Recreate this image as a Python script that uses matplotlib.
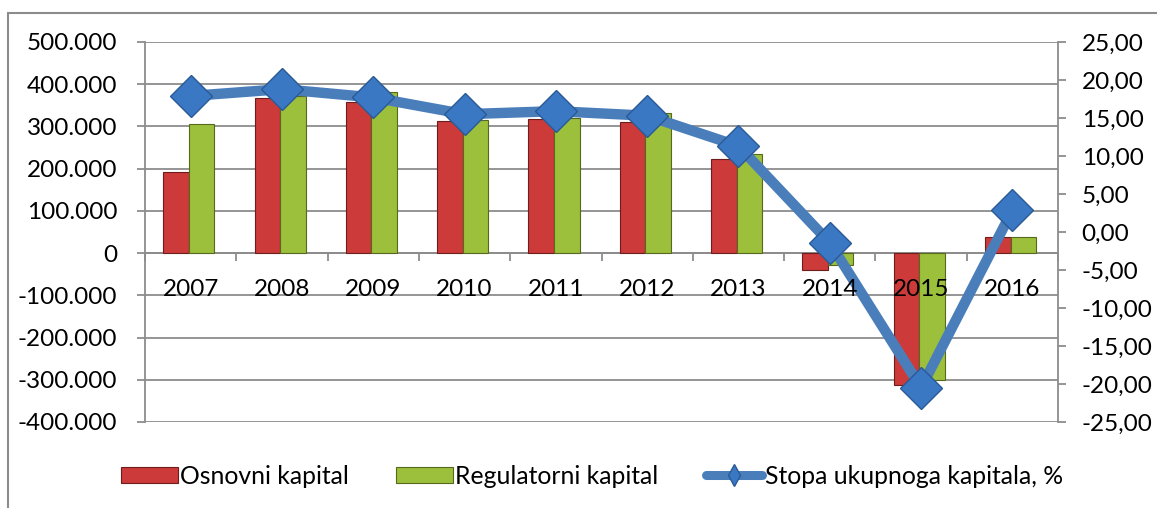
import matplotlib
matplotlib.use("Agg")
import matplotlib.pyplot as plt
from matplotlib.ticker import FuncFormatter, FixedLocator
from matplotlib.patches import Rectangle, Patch
from matplotlib.lines import Line2D
from matplotlib.transforms import offset_copy
import numpy as np

plt.rcParams['font.family'] = ['Lato', 'DejaVu Sans']

years = ['2007', '2008', '2009', '2010', '2011', '2012', '2013', '2014', '2015', '2016']
osnovni = [191000, 368000, 358000, 314000, 317000, 311000, 222000, -40000, -312000, 38000]
regulatorni = [305000, 372000, 381000, 316000, 319000, 333000, 234000, -28000, -300000, 38000]
stopa = [17.9, 18.8, 17.7, 15.5, 15.9, 15.3, 11.3, -1.4, -20.5, 2.85]

series_names = ['Osnovni kapital', 'Regulatorni kapital', 'Stopa ukupnoga kapitala, %']

W, H = 1157, 508
fig = plt.figure(figsize=(W / 100, H / 100), dpi=100)
fig.patch.set_facecolor('white')

left, right, top, bottom = 145, 1058, 42, 422
ax = fig.add_axes([left / W, 1 - bottom / H, (right - left) / W, (bottom - top) / H])

grid_c = '#8c8c8c'
red_c, red_e = '#cc3a3a', '#6e1c1c'
green_c, green_e = '#9cbf3c', '#56691c'
fs = 17.5

x = np.arange(len(years))
bw = 0.28
ax.bar(x - bw / 2 - 0.02, osnovni, bw, color=red_c, edgecolor=red_e, linewidth=0.8, zorder=3)
ax.bar(x + bw / 2 - 0.02, regulatorni, bw, color=green_c, edgecolor=green_e, linewidth=0.8, zorder=3)

ax.set_xlim(-0.5, len(years) - 0.5)
ax.set_ylim(-400000, 500000)
ax.set_yticks(np.arange(-400000, 500001, 100000))
ax.yaxis.set_major_formatter(FuncFormatter(lambda v, p: f"{v:,.0f}".replace(',', '.')))
ax.grid(axis='y', color=grid_c, linewidth=1.3, zorder=0)
ax.set_axisbelow(True)

for s in ['top', 'right']:
    ax.spines[s].set_visible(False)
ax.spines['left'].set_color(grid_c)
ax.spines['left'].set_linewidth(1.3)
ax.spines['bottom'].set_position(('data', 0))
ax.spines['bottom'].set_color(grid_c)
ax.spines['bottom'].set_linewidth(1.3)

ax.set_xticks(x)
ax.set_xticklabels([])
ax.xaxis.set_minor_locator(FixedLocator(np.arange(-0.5, len(years), 1.0)))
ax.tick_params(axis='x', which='major', length=0)
ax.tick_params(axis='x', which='minor', length=6, width=1.3, color=grid_c, direction='out')
ax.tick_params(axis='y', length=6, width=1.3, color=grid_c, pad=14, labelsize=fs, labelcolor='black')

ax2 = ax.twinx()
ax2.set_ylim(-25, 25)
ax2.set_yticks(np.arange(-25, 26, 5))
ax2.yaxis.set_major_formatter(FuncFormatter(lambda v, p: f"{v:.2f}".replace('.', ',')))
for s in ['top', 'left', 'bottom']:
    ax2.spines[s].set_visible(False)
ax2.spines['right'].set_color(grid_c)
ax2.spines['right'].set_linewidth(1.3)
ax2.tick_params(axis='y', length=6, width=1.3, color=grid_c, pad=11, labelsize=fs, labelcolor='black')

ax2.plot(x, stopa, color='#4a7ebb', linewidth=7.5, solid_joinstyle='round', solid_capstyle='round',
         zorder=4)
ax2.plot(x, stopa, linestyle='none', marker='D', markersize=21, markerfacecolor='#3b78c3',
         markeredgecolor='#2a5a96', markeredgewidth=1, zorder=6)

lab_tr = offset_copy(ax.transData, fig=fig, x=0, y=-19, units='points')
for xi, yr in zip(x, years):
    ax2.text(xi, 0, yr, transform=lab_tr, ha='center', va='top', fontsize=fs, color='black', zorder=5)

handles = [
    Patch(facecolor=red_c, edgecolor=red_e, linewidth=0.8),
    Patch(facecolor=green_c, edgecolor=green_e, linewidth=0.8),
    Line2D([0], [0], color='#4a7ebb', linewidth=6.5, solid_capstyle='round', marker='d',
           markersize=11, markerfacecolor='#3b78c3', markeredgecolor='#2a5a96'),
]
fig.legend(handles, series_names, loc='center', bbox_to_anchor=(592 / W, 1 - 476 / H), ncol=3,
           frameon=False, fontsize=17.8, handlelength=2.3, handleheight=0.65, handletextpad=0.1,
           columnspacing=1.9)

fig.add_artist(Rectangle((8 / W, -0.5), 2, 1 - 13 / H + 0.5, transform=fig.transFigure,
                         fill=False, edgecolor='#8c8c8c', linewidth=1.5, clip_on=False))

fig.savefig('out.png', dpi=100)
